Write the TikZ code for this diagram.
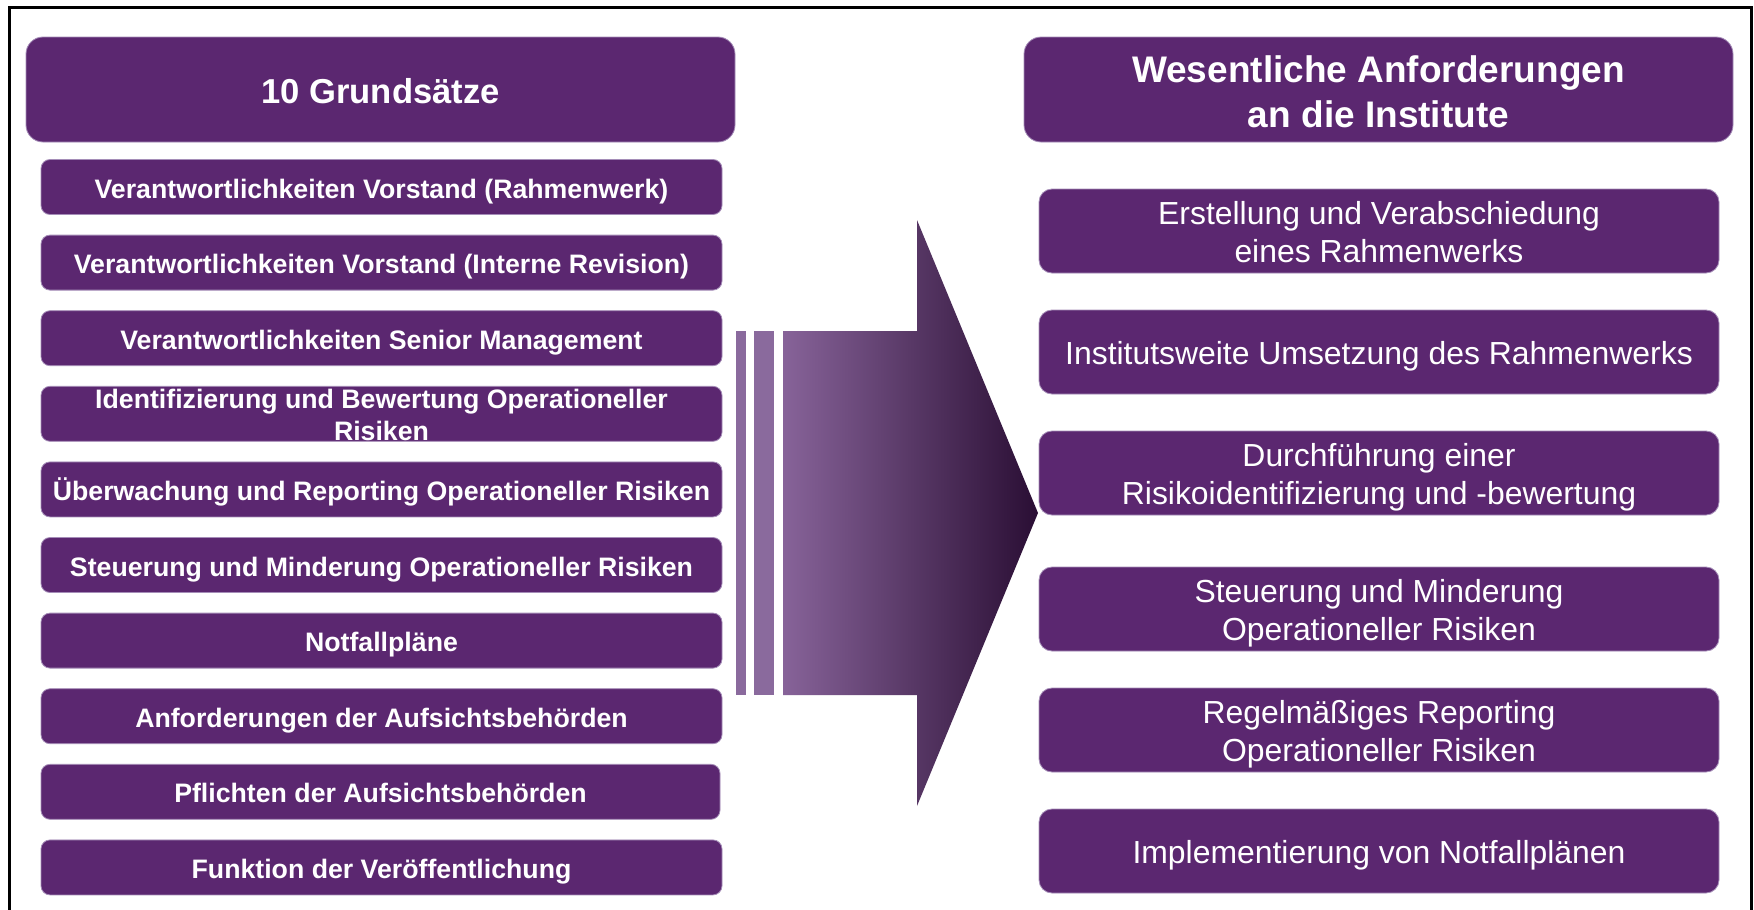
\documentclass[tikz,border=0pt]{standalone}
\usepackage{fontspec}
\setmainfont{Liberation Sans}
\definecolor{pur}{HTML}{5B2770}
\definecolor{purline}{HTML}{A58DB8}
\definecolor{barcol}{HTML}{8A6A9D}
\definecolor{gradL}{HTML}{876399}
\definecolor{gradR}{HTML}{2A0E34}
\newcommand\dtext[2]{\raisebox{-#1}[\height][\depth]{\begin{tabular}{@{}c@{}}#2\end{tabular}}}
\newcommand\dtextsmall[2]{\raisebox{-#1}[0.5\height][0.5\depth]{\begin{tabular}{@{}c@{}}#2\end{tabular}}}
\begin{document}
\begin{tikzpicture}[x=1pt,y=-1pt,
  hdr/.style={rectangle, rounded corners=17pt, fill=pur, draw=purline, line width=0.8pt,
    minimum width=709pt, minimum height=105pt, inner sep=0pt, text=white},
  lbox/.style={rectangle, rounded corners=9pt, fill=pur, draw=purline, line width=0.8pt,
    minimum width=681pt, minimum height=55pt, inner sep=0pt, text=white,
    font=\fontsize{26.7}{32}\selectfont\bfseries},
  rbox/.style={rectangle, rounded corners=13pt, fill=pur, draw=purline, line width=0.8pt,
    minimum width=680pt, minimum height=84pt, inner sep=0pt, text=white,
    font=\fontsize{31.9}{38}\selectfont},
  bar/.style={fill=barcol, draw=none}
]
\useasboundingbox (0,0) rectangle (1754,910);
\fill[white] (0,0) rectangle (1754,910);
% frame
\draw[line width=3pt, black] (9.5,930) -- (9.5,7) -- (1751,7) -- (1751,930);

% headers
\node[hdr, font=\fontsize{34.6}{42}\selectfont\bfseries] (lh) at (380.5,89.5) {\dtext{5.5pt}{10 Grundsätze}};
\node[hdr, font=\fontsize{37}{45}\selectfont\bfseries] (rh) at (1378.5,89.5) {\dtext{6.4pt}{Wesentliche Anforderungen\\an die Institute}};

% left items
\node[lbox] (l1)  at (381.5,187)   {\dtext{4.6pt}{Verantwortlichkeiten Vorstand (Rahmenwerk)}};
\node[lbox] (l2)  at (381.5,262.6) {\dtext{4.6pt}{Verantwortlichkeiten Vorstand (Interne Revision)}};
\node[lbox] (l3)  at (381.5,338.2) {\dtext{4.6pt}{Verantwortlichkeiten Senior Management}};
\node[lbox] (l4)  at (381.5,413.8) {\dtextsmall{7.2pt}{Identifizierung und Bewertung Operationeller\\Risiken}};
\node[lbox] (l5)  at (381.5,489.4) {\dtext{4.6pt}{Überwachung und Reporting Operationeller Risiken}};
\node[lbox] (l6)  at (381.5,565)   {\dtext{4.6pt}{Steuerung und Minderung Operationeller Risiken}};
\node[lbox] (l7)  at (381.5,640.6) {\dtext{4.6pt}{Notfallpläne}};
\node[lbox] (l8)  at (381.5,716.2) {\dtext{4.6pt}{Anforderungen der Aufsichtsbehörden}};
\node[lbox, minimum width=679pt] (l9) at (380.5,791.8) {\dtext{4.6pt}{Pflichten der Aufsichtsbehörden}};
\node[lbox] (l10) at (381.5,867.4) {\dtext{4.6pt}{Funktion der Veröffentlichung}};

% right items
\node[rbox] (r1) at (1379,231) {\dtext{4.8pt}{Erstellung und Verabschiedung\\eines Rahmenwerks}};
\node[rbox] (r2) at (1379,352) {\dtext{5.1pt}{Institutsweite Umsetzung des Rahmenwerks}};
\node[rbox] (r3) at (1379,473) {\dtext{4.8pt}{Durchführung einer\\Risikoidentifizierung und -bewertung}};
\node[rbox] (r4) at (1379,609) {\dtext{4.8pt}{Steuerung und Minderung\\Operationeller Risiken}};
\node[rbox] (r5) at (1379,730) {\dtext{4.8pt}{Regelmäßiges Reporting\\Operationeller Risiken}};
\node[rbox] (r6) at (1379,851) {\dtext{5.1pt}{Implementierung von Notfallplänen}};

% big arrow
\fill[bar] (736,331) rectangle (746,695);
\fill[bar] (754,331) rectangle (774,695);
\shade[left color=gradL, right color=gradR]
  (783,331) -- (917,331) -- (917,220) -- (1038,513) -- (917,806) -- (917,695) -- (783,695) -- cycle;
\end{tikzpicture}
\end{document}
